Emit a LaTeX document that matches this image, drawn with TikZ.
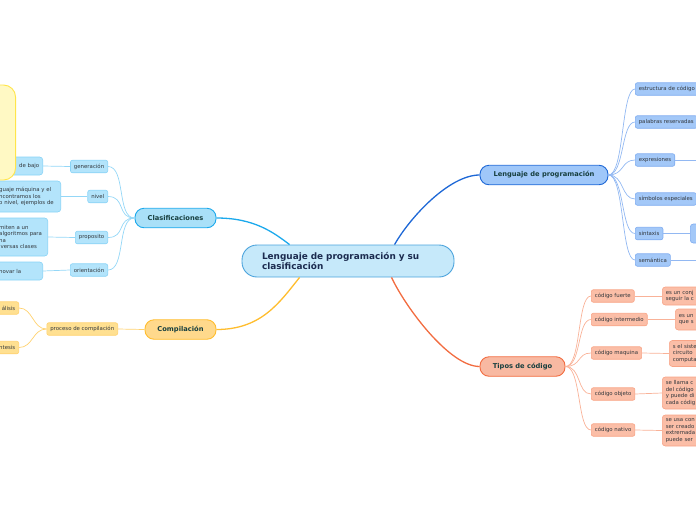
\documentclass[tikz,border=0pt]{standalone}
\usepackage{fontspec}
\setmainfont{DejaVu Sans}
\usepackage{xcolor}
\definecolor{rootfill}{HTML}{C6E9FA}
\definecolor{rootline}{HTML}{4BA3DC}
\definecolor{roottext}{HTML}{1B2B4F}
\definecolor{topictext}{HTML}{173F3F}
\definecolor{subtext}{HTML}{33383D}
\definecolor{clasfill}{HTML}{A9E0F8}
\definecolor{clasline}{HTML}{1CA9EC}
\definecolor{classubfill}{HTML}{B3E4FB}
\definecolor{classubline}{HTML}{88D3F6}
\definecolor{compfill}{HTML}{FFD98C}
\definecolor{compline}{HTML}{FFBD2E}
\definecolor{compsubfill}{HTML}{FFE091}
\definecolor{compsubline}{HTML}{FFD270}
\definecolor{progfill}{HTML}{9FC7F9}
\definecolor{progline}{HTML}{1E68D6}
\definecolor{progsubfill}{HTML}{A3C8F8}
\definecolor{progsubline}{HTML}{7FACF0}
\definecolor{tipofill}{HTML}{F8B9A2}
\definecolor{tipoline}{HTML}{F26C40}
\definecolor{tiposubfill}{HTML}{FBBEA7}
\definecolor{tiposubline}{HTML}{F8A486}
\definecolor{notefill}{HTML}{FFF9C4}
\definecolor{noteline}{HTML}{FFE54A}
\usepackage{tikz}

\begin{document}
\begin{tikzpicture}[
		x=1pt, y=1pt,
		root/.style={
			draw=rootline,
			rounded corners=15pt,
			line width=0.9pt,
			fill=rootfill,
			text=roottext,
			align=left,
			text width=172pt,
			inner xsep=20pt,
			minimum height=32pt,
			font=\fontsize{8.9pt}{10.5pt}\selectfont\bfseries
		},
		topic/.style={
			rounded corners=9pt,
			line width=0.9pt,
			minimum height=19.5pt,
			text=topictext,
			font=\fontsize{6.7pt}{7.5pt}\selectfont\bfseries
		},
		sub/.style={
			rounded corners=2pt,
			line width=0.6pt,
			minimum height=12.5pt,
			inner xsep=3.5pt,
			inner ysep=1pt,
			text=subtext,
			font=\fontsize{5.4pt}{6.5pt}\selectfont
		},
		leaf/.style={
			sub,
			rounded corners=3pt,
			align=left
		},
		note/.style={
			draw=noteline,
			fill=notefill,
			rounded corners=12pt,
			line width=0.9pt
		},
		clastop/.style={draw=clasline, fill=clasfill},
		comptop/.style={draw=compline, fill=compfill},
		progtop/.style={draw=progline, fill=progfill},
		tipotop/.style={draw=tipoline, fill=tipofill},
		classub/.style={draw=classubline, fill=classubfill},
		compsub/.style={draw=compsubline, fill=compsubfill},
		progsub/.style={draw=progsubline, fill=progsubfill},
		tiposub/.style={draw=tiposubline, fill=tiposubfill},
		mainlink/.style={line width=1.3pt},
		claslink/.style={line width=0.7pt, draw=classubline!90},
		complink/.style={line width=0.7pt, draw=compsubline},
		proglink/.style={line width=0.7pt, draw=progsubline!85},
		tipolink/.style={line width=0.7pt, draw=tiposubline!85}
	]
	
	\useasboundingbox (0,0) rectangle (696,-520);
	\clip (0,0) rectangle (696,-520);
	
	% Central topic
	\node[root] (main) at (348,-261) {Lenguaje de programación y su\\clasificación};
	
	% Main branches
	\node[topic, clastop, minimum width=81pt] (clas) at (175.5,-218) {Clasificaciones};
	\node[topic, comptop, minimum width=71pt] (comp) at (180.5,-329.5) {Compilación};
	\node[topic, progtop, minimum width=128pt] (prog) at (544,-175) {Lenguaje de programación};
	\node[topic, tipotop, minimum width=85pt] (tipos) at (522.5,-366.5) {Tipos de código};
	
	% Clasificaciones subtopics
	\node[sub, classub, anchor=east] (gen) at (108,-166.5) {generación};
	\node[sub, classub, anchor=east] (niv) at (108,-196.5) {nivel};
	\node[sub, classub, anchor=east] (prop) at (108,-237.5) {proposito};
	\node[sub, classub, anchor=east] (orient) at (108,-270) {orientación};
	
	% Clasificaciones leaves, cut at the left edge
	\node[leaf, classub, anchor=east, text width=45pt, align=right, minimum height=18pt] (gentxt) at (43,-166) {de bajo};
	\node[leaf, classub, anchor=east, text width=58pt, minimum height=31pt] (nivtxt) at (61,-196.5) {%
		guaje máquina y el\\
		ncontramos los\\
		o nivel, ejemplos de
	};
	\node[leaf, classub, anchor=east, text width=45pt, minimum height=38pt] (proptxt) at (48,-237) {%
		miten a un\\
		algoritmos para\\
		na\\
		iversas clases
	};
	\node[leaf, classub, anchor=east, text width=40pt, minimum height=18pt] (orienttxt) at (43,-271) {novar la};
	
	% Yellow note over the left edge
	\node[note, anchor=east, minimum width=40pt, minimum height=95pt] (yel) at (16,-132.5) {};
	
	% Compilación subtopics
	\node[sub, compsub, anchor=east] (proc) at (118,-329) {proceso de compilación};
	\node[sub, compsub, anchor=east, text width=20pt, align=right] (ana) at (19,-308) {álisis};
	\node[sub, compsub, anchor=east, text width=20pt, align=right] (sint) at (19,-347.5) {ntesis};
	
	% Lenguaje de programación subtopics
	\node[sub, progsub, anchor=west] (estr) at (635,-89) {estructura de código};
	\node[sub, progsub, anchor=west] (pal) at (635,-122) {palabras reservadas};
	\node[sub, progsub, anchor=west] (expr) at (635,-160) {expresiones};
	\node[sub, progsub, anchor=west] (simb) at (635,-199) {símbolos especiales};
	\node[sub, progsub, anchor=west] (sintax) at (635,-233.5) {sintaxis};
	\node[sub, progsub, anchor=west] (sem) at (635,-260) {semántica};
	\node[leaf, progsub, anchor=west, minimum width=30pt, minimum height=19pt] (sintaxtxt) at (690,-233.5) {};
	\coordinate (exprend) at (700,-160);
	\coordinate (semend) at (700,-260);
	
	% Tipos de código subtopics
	\node[sub, tiposub, anchor=west] (fuerte) at (591,-296) {código fuerte};
	\node[sub, tiposub, anchor=west] (inter) at (591,-319.5) {código intermedio};
	\node[sub, tiposub, anchor=west] (maq) at (591,-353) {código maquina};
	\node[sub, tiposub, anchor=west] (obj) at (591,-394) {código objeto};
	\node[sub, tiposub, anchor=west] (nat) at (591,-430) {código nativo};
	
	% Tipos de código leaves, cut at the right edge
	\node[leaf, tiposub, anchor=west, text width=40pt, minimum height=18pt] (fuertetxt) at (662,-296) {%
		es un conj\\
		seguir la c
	};
	\node[leaf, tiposub, anchor=west, text width=30pt, minimum height=21pt] (intertxt) at (675,-319.5) {%
		es un\\
		que s
	};
	\node[leaf, tiposub, anchor=west, text width=36pt, minimum height=26pt] (maqtxt) at (669,-353.5) {%
		s el siste\\
		circuito\\
		computa
	};
	\node[leaf, tiposub, anchor=west, text width=40pt, minimum height=32pt] (objtxt) at (662,-393) {%
		se llama c\\
		del código\\
		y puede di\\
		cada códig
	};
	\node[leaf, tiposub, anchor=west, text width=40pt, minimum height=31pt] (nattxt) at (662,-430.5) {%
		se usa con\\
		ser creado\\
		extremada\\
		puede ser
	};
	
	% Links from the central topic
	\draw[mainlink, draw=clasline] (clas.east) .. controls +(38,0) and +(-16,12) .. ([xshift=48pt]main.north west);
	\draw[mainlink, draw=compline] (comp.east) .. controls +(45,0) and +(-20,-25) .. ([xshift=58pt]main.south west);
	\draw[mainlink, draw=progline] (prog.west) .. controls +(-30,0) and +(16,28) .. ([xshift=153pt]main.north west);
	\draw[mainlink, draw=tipoline] (tipos.west) .. controls +(-30,0) and +(14,-30) .. ([xshift=150pt]main.south west);
	
	% Links inside Clasificaciones
	\draw[claslink] (clas.west) .. controls +(-18,0) and +(18,0) .. (gen.east);
	\draw[claslink] (clas.west) .. controls +(-18,0) and +(18,0) .. (niv.east);
	\draw[claslink] (clas.west) .. controls +(-18,0) and +(18,0) .. (prop.east);
	\draw[claslink] (clas.west) .. controls +(-18,0) and +(18,0) .. (orient.east);
	\draw[claslink] (gen.west) -- (gentxt.east);
	\draw[claslink] (niv.west) -- (nivtxt.east);
	\draw[claslink] (prop.west) -- (proptxt.east);
	\draw[claslink] (orient.west) -- (orienttxt.east);
	
	% Links inside Compilación
	\draw[complink] (comp.west) -- (proc.east);
	\draw[complink] (proc.west) .. controls +(-14,0) and +(14,0) .. (ana.east);
	\draw[complink] (proc.west) .. controls +(-14,0) and +(14,0) .. (sint.east);
	
	% Links inside Lenguaje de programación
	\draw[proglink] (prog.east) .. controls +(16,0) and +(-14,0) .. (estr.west);
	\draw[proglink] (prog.east) .. controls +(16,0) and +(-14,0) .. (pal.west);
	\draw[proglink] (prog.east) .. controls +(16,0) and +(-14,0) .. (expr.west);
	\draw[proglink] (prog.east) .. controls +(16,0) and +(-14,0) .. (simb.west);
	\draw[proglink] (prog.east) .. controls +(16,0) and +(-14,0) .. (sintax.west);
	\draw[proglink] (prog.east) .. controls +(16,0) and +(-14,0) .. (sem.west);
	\draw[proglink] (expr.east) -- (exprend);
	\draw[proglink] (sintax.east) -- (sintaxtxt.west);
	\draw[proglink] (sem.east) -- (semend);
	
	% Links inside Tipos de código
	\draw[tipolink] (tipos.east) .. controls +(16,0) and +(-14,0) .. (fuerte.west);
	\draw[tipolink] (tipos.east) .. controls +(16,0) and +(-14,0) .. (inter.west);
	\draw[tipolink] (tipos.east) .. controls +(16,0) and +(-14,0) .. (maq.west);
	\draw[tipolink] (tipos.east) .. controls +(16,0) and +(-14,0) .. (obj.west);
	\draw[tipolink] (tipos.east) .. controls +(16,0) and +(-14,0) .. (nat.west);
	\draw[tipolink] (fuerte.east) -- (fuertetxt.west);
	\draw[tipolink] (inter.east) -- (intertxt.west);
	\draw[tipolink] (maq.east) -- (maqtxt.west);
	\draw[tipolink] (obj.east) -- (objtxt.west);
	\draw[tipolink] (nat.east) -- (nattxt.west);
	
\end{tikzpicture}
\end{document}
